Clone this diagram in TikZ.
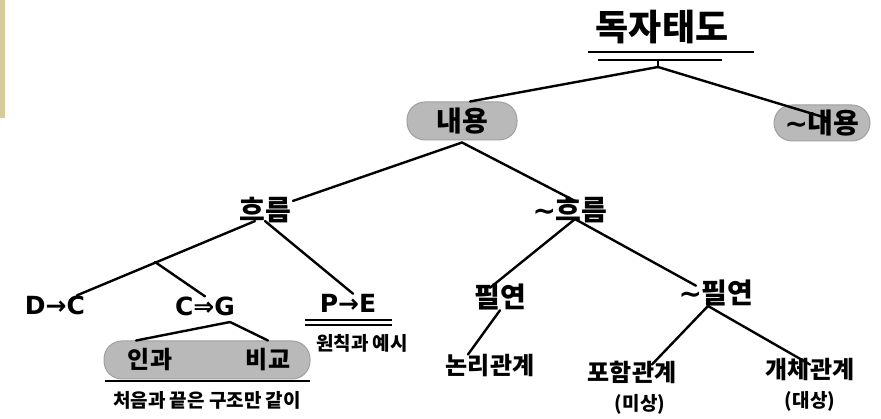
\documentclass[tikz,border=0pt]{standalone}
\usepackage{fontspec}
\setmainfont{Noto Sans CJK KR}
\newfontfamily\dv{DejaVu Sans}
\begin{document}
\begin{tikzpicture}[x=1pt,y=-1pt,
  big/.style={font=\bfseries\fontsize{28}{30}\selectfont, inner sep=2pt},
  lbl/.style={font=\bfseries\fontsize{24}{26}\selectfont, inner sep=2pt},
  small/.style={font=\bfseries\fontsize{19}{21}\selectfont, inner sep=2pt},
  sym/.style={font=\dv\bfseries\fontsize{25}{27}\selectfont, inner sep=2pt},
  pill/.style={rounded corners=18pt, fill=gray!55, draw=gray!75, line width=1pt, inner sep=0pt},
  edge/.style={line width=2.4pt, line cap=round},
  uline/.style={line width=2pt}]
\path[use as bounding box] (0,0) rectangle (881,419);
\fill[olive!60!brown, opacity=0.45] (0,0) rectangle (5,118);

% title
\node[font=\bfseries\fontsize{36}{38}\selectfont, inner sep=0pt] (title) at (662,27) {독자태도};
\draw[uline] (588,52) -- (754,52);
\draw[uline] (598,60) -- (722,60);
\coordinate (tj) at (658,67);
\draw[edge] (658,60) -- (tj);

% level 1
\node[pill, minimum width=110pt, minimum height=38pt, big] (nae) at (462,121) {내용};
\node[pill, minimum width=96pt, minimum height=36pt, big] (nnae) at (822,123) {{\dv\char"223C}내용};
\draw[edge] (tj) -- ([xshift=8pt]nae.north);
\draw[edge] (tj) -- ([xshift=6pt,yshift=-14pt]nnae.north);

% level 2
\node[big] (flow) at (265,210) {흐름};
\node[big] (nflow) at (570,210) {{\dv\char"223C}흐름};
\draw[edge] ([yshift=-2pt]nae.south) -- ([yshift=-6pt]flow.north east);
\draw[edge] ([yshift=-2pt]nae.south) -- ([xshift=5pt,yshift=-6pt]nflow.north);

% level 3 under flow
\node[sym] (dc) at (55,305) {D→C};
\node[sym] (cg) at (205,306) {C⇒G};
\node[sym] (pe) at (348,303) {P→E};
\draw[edge] ([xshift=-10pt,yshift=4pt]flow.south) -- ([xshift=22pt,yshift=-2pt]dc.north);
\coordinate (fj) at (155,262);
\draw[edge] (fj) -- ([yshift=-2pt]cg.north);
\draw[edge] ([yshift=4pt]flow.south) -- ([xshift=5pt,yshift=-2pt]pe.north);
\draw[uline] (305,320) -- (392,320);
\draw[uline] (305,325) -- (392,325);
\node[small] (ex) at (362,343) {원칙과 예시};

% C=>G children
\node[pill, minimum width=206pt, minimum height=38pt] (box) at (207,360) {};
\node[lbl] (cause) at (150,360) {인과};
\node[lbl] (comp) at (268,360) {비교};
\coordinate (cj) at (230,322);
\draw[edge] (cj) -- ([xshift=-14pt,yshift=6pt]cause.north);
\draw[edge] (cj) -- ([yshift=6pt]comp.north);
\draw[uline] (105,381) -- (310,381);
\node[small] (note) at (207,400) {처음과 끝은 구조만 같이};

% under ~flow
\node[big] (nec) at (500,297) {필연};
\node[big] (nnec) at (716,293) {{\dv\char"223C}필연};
\draw[edge] ([xshift=5pt,yshift=6pt]nflow.south) -- ([xshift=-10pt,yshift=-6pt]nec.north);
\draw[edge] ([xshift=5pt,yshift=6pt]nflow.south) -- ([xshift=-20pt,yshift=-8pt]nnec.north);

\node[lbl] (logic) at (490,366) {논리관계};
\draw[edge] ([yshift=2pt]nec.south) -- ([xshift=-22pt,yshift=-2pt]logic.north);

\node[lbl] (incl) at (632,372) {포함관계};
\node[small] (incl2) at (640,404) {(미상)};
\node[lbl] (indiv) at (810,370) {개체관계};
\node[small] (indiv2) at (810,401) {(대상)};
\coordinate (nj) at (708,306);
\draw[edge] (nj) -- ([xshift=20pt,yshift=-6pt]incl.north);
\draw[edge] (nj) -- ([yshift=-8pt]indiv.north);
\end{tikzpicture}
\end{document}
